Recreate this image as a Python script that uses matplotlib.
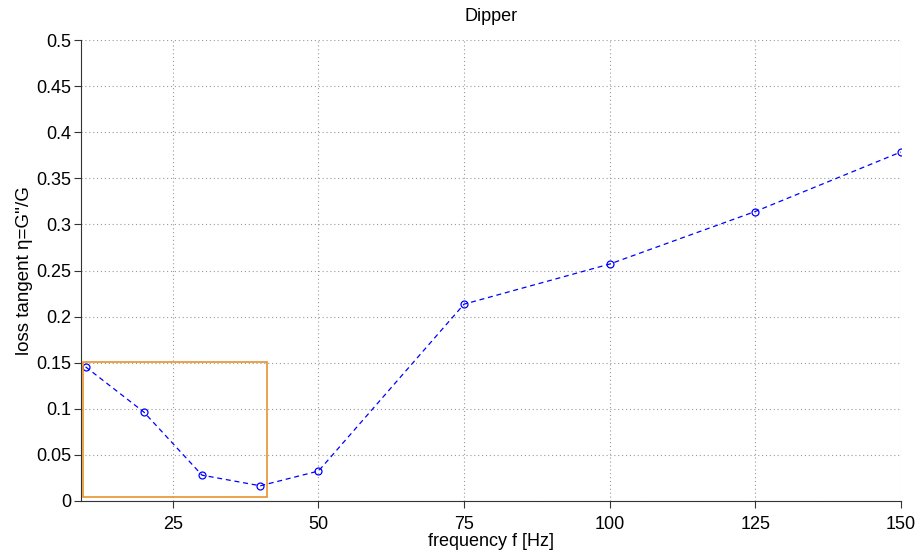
"""Loss tangent vs frequency for the Dipper sample."""
import matplotlib
matplotlib.use("Agg")
import matplotlib.pyplot as plt
from matplotlib.patches import Rectangle

freq_hz = [10, 20, 30, 40, 50, 75, 100, 125, 150]
loss_tan = [0.1455, 0.0965, 0.028, 0.0165, 0.0325, 0.2135, 0.257, 0.314, 0.3785]
x_ticks = [25, 50, 75, 100, 125, 150]
y_ticks = [0, 0.05, 0.1, 0.15, 0.2, 0.25, 0.3, 0.35, 0.4, 0.45, 0.5]
y_labels = ["0", "0.05", "0.1", "0.15", "0.2", "0.25", "0.3", "0.35", "0.4", "0.45", "0.5"]
# highlighted low-frequency region (x0, x1, y0, y1)
zoom_box = (9.5, 41.1, 0.004, 0.151)

plt.rcParams["font.family"] = ["Liberation Sans", "DejaVu Sans"]

fig = plt.figure(figsize=(9.2, 5.52), dpi=100)
ax = fig.add_axes([0.088, 0.0924, 0.891, 0.835])

ax.plot(freq_hz, loss_tan, "--", color="blue", lw=0.9, dashes=(4, 3),
        marker="o", ms=5, mfc="none", mec="blue", mew=0.9)

x0, x1, y0, y1 = zoom_box
ax.add_patch(Rectangle((x0, y0), x1 - x0, y1 - y0, fill=False,
                       edgecolor="#e8922e", lw=1.2, zorder=3))

ax.set_xlim(9.2, 150)
ax.set_ylim(0, 0.5)
ax.set_xticks(x_ticks)
ax.set_yticks(y_ticks)
ax.set_yticklabels(y_labels)
ax.grid(True, ls=(0, (1, 2.5)), color="#999999", lw=0.8)
for side in ("top", "right"):
    ax.spines[side].set_visible(False)
ax.spines["left"].set_color("#333333")
ax.spines["bottom"].set_color("#333333")
ax.tick_params(labelsize=13, direction="out", length=5, color="#333333", pad=2)
ax.tick_params(axis="x", pad=6)

ax.set_title("Dipper", fontsize=13, pad=14)
ax.set_xlabel("frequency f [Hz]", fontsize=13, labelpad=0)
ax.set_ylabel("loss tangent η=G''/G", fontsize=13.5, labelpad=2)

fig.savefig("out.png", dpi=100)
plt.close(fig)
